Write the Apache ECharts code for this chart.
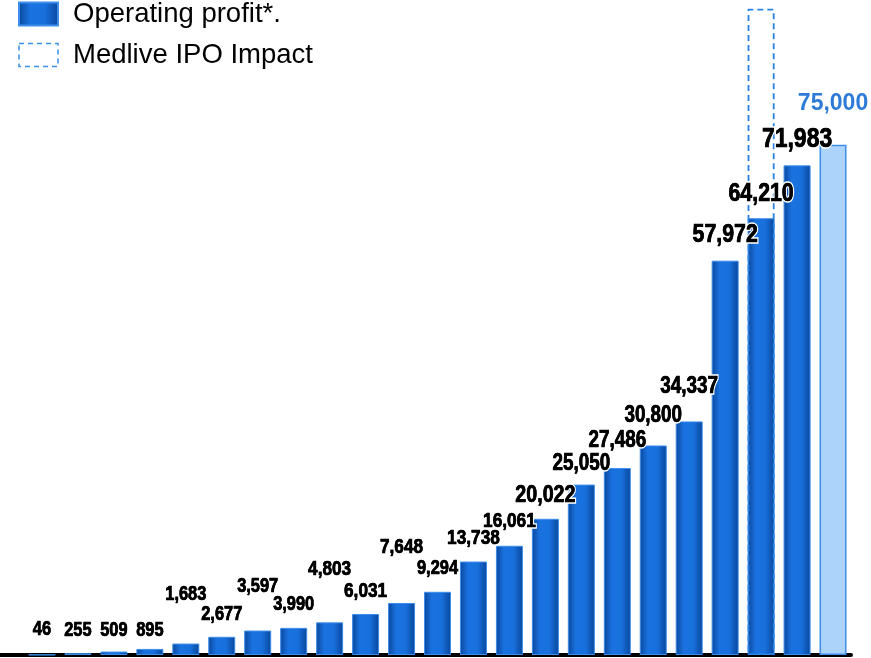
<!DOCTYPE html>
<html>
<head>
<meta charset="utf-8">
<script src="https://cdn.jsdelivr.net/npm/echarts@6/dist/echarts.min.js"></script>
<style>
  html, body { margin: 0; padding: 0; background: #fff; }
  #chart { width: 871px; height: 658px; }
</style>
</head>
<body>
<div id="chart"></div>
<script>
// Periods along the x axis (labels are not shown)
const periods = ['1', '2', '3', '4', '5', '6', '7', '8', '9', '10', '11', '12',
                 '13', '14', '15', '16', '17', '18', '19', '20', '21', '22', '23'];

// Operating profit per period
const operatingProfit = [46, 255, 509, 895, 1683, 2677, 3597, 3990, 4803, 6031, 7648, 9294,
                         13738, 16061, 20022, 25050, 27486, 30800, 34337, 57972, 64210, 71983, null];

// Forecast for the final period
const forecast = [null, null, null, null, null, null, null, null, null, null, null, null,
                  null, null, null, null, null, null, null, null, null, null, 75000];

// Operating profit including the Medlive IPO impact
const ipoImpact = [null, null, null, null, null, null, null, null, null, null, null, null,
                   null, null, null, null, null, null, null, null, 95000, null, null];

// Gap between bar top and label (px) and label size, per period
const labelGap = [18, 16, 14, 12, 42, 16, 37, 17, 46, 16, 49, 16,
                  16, 17, 15, 13, 20, 22, 27, 17, 16, 17, 33];
const labelSize = [20, 20, 20, 20, 20, 20, 20, 20, 21, 21, 21, 20,
                   21, 21, 24, 23, 23, 23, 23, 26, 26, 28, 23];

const sans = '"Liberation Sans", Arial, sans-serif';

const barGradient = new echarts.graphic.LinearGradient(0, 0, 1, 0, [
  { offset: 0, color: '#0a479a' },
  { offset: 0.3, color: '#1a72e0' },
  { offset: 0.65, color: '#1870dd' },
  { offset: 1, color: '#09469a' }
]);

const fmt = v => v.toLocaleString('en-US');
const toBar = arr => arr.map(v => v == null ? '-' : v);

// Value labels: one entry per period, taken from profit or forecast
const labelRows = periods.map((p, i) => {
  const isForecast = forecast[i] != null;
  return [i, isForecast ? forecast[i] : operatingProfit[i], isForecast ? 1 : 0];
});

function renderLabel(params, api) {
  const i = params.dataIndex;
  const value = api.value(1);
  const isForecast = api.value(2) === 1;
  const pt = api.coord([api.value(0), value]);
  const fs = labelSize[i];
  const base = {
    x: 0,
    y: 0,
    text: fmt(value),
    font: 'bold ' + fs + 'px ' + sans,
    align: 'center',
    verticalAlign: 'bottom'
  };
  const pos = {
    x: pt[0],
    y: pt[1] - labelGap[i] + 0.16 * fs,
    scaleX: isForecast ? 1 : 0.82
  };
  if (isForecast) {
    return Object.assign({ type: 'text', style: Object.assign({ fill: '#2d7bd6' }, base) }, pos);
  }
  // white halo underneath, then a slightly heavier black face
  return Object.assign({
    type: 'group',
    children: [
      { type: 'text', style: Object.assign({ fill: '#000', stroke: '#fff', lineWidth: 3.5 }, base) },
      { type: 'text', style: Object.assign({ fill: '#000', stroke: '#000', lineWidth: 0.7 }, base) }
    ]
  }, pos);
}

const chart = echarts.init(document.getElementById('chart'));
chart.setOption({
  animation: false,
  grid: { left: 24, right: 20, top: 2, bottom: 3 },
  legend: {
    data: [
      { name: 'Operating profit*.', icon: 'rect' },
      {
        name: 'Medlive IPO Impact',
        icon: 'rect',
        itemStyle: { color: '#fff', borderColor: '#3b90e8', borderWidth: 1.5, borderType: [5, 4] }
      }
    ],
    orient: 'vertical',
    left: 18,
    top: 0,
    padding: 0,
    itemWidth: 39,
    itemHeight: 23,
    itemGap: 13,
    textStyle: { fontFamily: sans, fontSize: 27.5, color: '#000', padding: [0, 0, 0, 10] },
    selectedMode: false
  },
  xAxis: {
    type: 'category',
    data: periods,
    axisLine: { lineStyle: { color: '#000', width: 4 } },
    axisTick: { show: false },
    axisLabel: { show: false }
  },
  yAxis: {
    type: 'value',
    min: 0,
    max: 96000,
    show: false,
    splitLine: { show: false }
  },
  graphic: [{
    type: 'rect',
    shape: { x: 0, y: 653, width: 26, height: 4 },
    style: { fill: '#000' },
    silent: true
  }],
  series: [
    {
      name: 'Operating profit*.',
      type: 'bar',
      barWidth: 27,
      barGap: '-100%',
      data: toBar(operatingProfit),
      itemStyle: { color: barGradient, borderColor: '#3d8deb', borderWidth: 1 }
    },
    {
      name: 'Forecast',
      type: 'bar',
      barWidth: 27,
      barGap: '-100%',
      data: toBar(forecast),
      itemStyle: { color: '#acd4fb', borderColor: '#3f8ee8', borderWidth: 1.5 }
    },
    {
      name: 'Medlive IPO Impact',
      type: 'bar',
      barWidth: 27,
      barGap: '-100%',
      z: 3,
      data: toBar(ipoImpact),
      itemStyle: {
        color: 'rgba(255,255,255,0)',
        borderColor: '#2a82e6',
        borderWidth: 1.8,
        borderType: [6, 4]
      }
    },
    {
      name: 'values',
      type: 'custom',
      z: 10,
      silent: true,
      data: labelRows,
      encode: { x: 0, y: 1 },
      renderItem: renderLabel
    }
  ]
});
</script>
</body>
</html>
